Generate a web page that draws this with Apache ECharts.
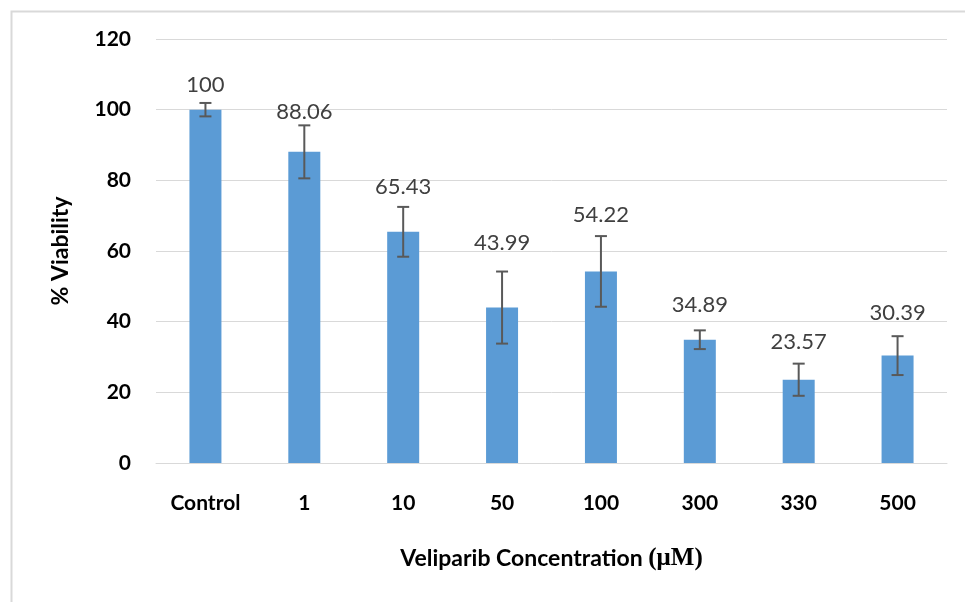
<!DOCTYPE html>
<html>
<head>
<meta charset="utf-8">
<script src="https://cdn.jsdelivr.net/npm/echarts@6/dist/echarts.min.js"></script>
<style>html,body{margin:0;padding:0;background:#fff}#c{width:965px;height:602px}</style>
</head>
<body>
<div id="c"></div>
<script>
var categories = ['Control', '1', '10', '50', '100', '300', '330', '500'];
var viability = [100, 88.06, 65.43, 43.99, 54.22, 34.89, 23.57, 30.39];
var errors = [1.9, 7.5, 7.05, 10.2, 10.0, 2.65, 4.55, 5.5];
var labelY = [107.1, 99.4, 78.2, 62.4, 70.3, 44.8, 34.4, 42.6];
var yTicks = [0, 20, 40, 60, 80, 100, 120];

var chart = echarts.init(document.getElementById('c'), null, {renderer: 'canvas'});
var font = 'Lato, "Open Sans", sans-serif';

var option = {
  backgroundColor: '#fff',
  animation: false,
  graphic: [{
    type: 'rect', left: 9, top: 9, shape: {width: 1000, height: 700},
    style: {fill: 'none', stroke: '#D9D9D9', lineWidth: 2}, silent: true, z: -1
  }],
  grid: {left: 156, right: 18, top: 39, bottom: 139, containLabel: false},
  xAxis: {
    type: 'category',
    data: categories,
    axisLine: {show: true, lineStyle: {color: '#D9D9D9', width: 1}},
    axisTick: {show: false},
    axisLabel: {color: '#000', fontFamily: font, fontWeight: 'bold', fontSize: 21, margin: 30},
    name: 'Veliparib Concentration {mu|(μM)}',
    nameLocation: 'middle',
    nameGap: 83,
    nameTextStyle: {color: '#000', fontFamily: font, fontWeight: 'bold', fontSize: 23,
      rich: {mu: {fontFamily: '"Liberation Serif", serif', fontSize: 25, color: '#000'}}}
  },
  yAxis: {
    type: 'value',
    min: yTicks[0], max: yTicks[yTicks.length - 1], interval: 20,
    axisLine: {show: false},
    axisTick: {show: false},
    splitLine: {lineStyle: {color: '#D9D9D9', width: 1}},
    axisLabel: {color: '#000', fontFamily: font, fontWeight: 'bold', fontSize: 21, margin: 25},
    name: '% Viability',
    nameLocation: 'middle',
    nameGap: 84,
    nameRotate: 90,
    nameTextStyle: {color: '#000', fontFamily: font, fontWeight: 'bold', fontSize: 23}
  },
  series: [
    {
      type: 'bar',
      data: viability,
      barWidth: 32,
      itemStyle: {color: '#5B9BD5'},
      z: 2
    },
    {
      type: 'custom',
      z: 3,
      data: viability.map(function (v, i) { return [i, v - errors[i], v + errors[i]]; }),
      renderItem: function (params, api) {
        var i = api.value(0);
        var lo = api.coord([i, api.value(1)]);
        var hi = api.coord([i, api.value(2)]);
        var hw = 6;
        var st = {stroke: '#595959', lineWidth: 2, fill: 'none'};
        return {type: 'group', children: [
          {type: 'line', shape: {x1: hi[0], y1: hi[1], x2: lo[0], y2: lo[1]}, style: st},
          {type: 'line', shape: {x1: hi[0] - hw, y1: hi[1], x2: hi[0] + hw, y2: hi[1]}, style: st},
          {type: 'line', shape: {x1: lo[0] - hw, y1: lo[1], x2: lo[0] + hw, y2: lo[1]}, style: st}
        ]};
      }
    },
    {
      type: 'custom',
      z: 4,
      data: viability.map(function (v, i) { return [i, labelY[i], v]; }),
      renderItem: function (params, api) {
        var p = api.coord([api.value(0), api.value(1)]);
        return {type: 'text', x: p[0], y: p[1], style: {
          text: String(viability[params.dataIndex]), fill: '#404040',
          font: 'normal 22px ' + font, align: 'center', verticalAlign: 'middle'}};
      }
    }
  ]
};
chart.setOption(option);
</script>
</body>
</html>
